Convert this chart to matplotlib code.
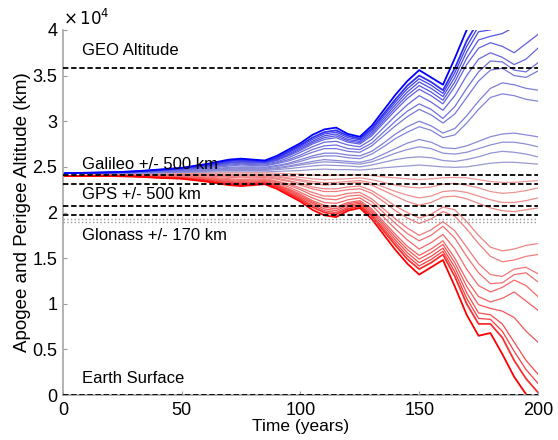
import matplotlib
matplotlib.use("Agg")
import matplotlib.pyplot as plt
from matplotlib.ticker import FuncFormatter

plt.rcParams['font.family'] = ['Liberation Sans', 'DejaVu Sans']

# time grid (years)
years = [0, 10, 20, 30, 40, 50, 60, 70, 75, 80, 85, 90, 95, 100, 105, 110, 115, 120, 125,
         130, 135, 140, 145, 150, 155, 160, 165, 170, 175, 180, 185, 190, 195, 200]

# apogee altitudes (thousand km), most perturbed first
apo1 = [24.3,24.35,24.4,24.5,24.7,24.9,25.3,25.8,25.9,25.8,25.7,26.2,26.9,27.6,28.5,29.1,29.3,28.6,28.3,29.5,31.2,32.9,34.4,35.6,34.8,34.0,36.9,40.0,42.3,42.0,44.3,46.8,48.7,50.3]
apo2 = [24.3,24.35,24.4,24.5,24.65,24.85,25.2,25.7,25.8,25.7,25.6,26.0,26.7,27.4,28.2,28.8,29.0,28.4,28.1,29.2,30.8,32.4,33.9,35.0,34.3,33.4,35.8,38.8,41.0,41.0,42.5,45.0,47.0,48.5]
apo3 = [24.3,24.35,24.4,24.5,24.62,24.82,25.15,25.6,25.7,25.62,25.55,25.9,26.55,27.25,28.0,28.6,28.8,28.2,27.95,29.0,30.55,32.1,33.55,34.65,33.95,33.05,35.3,38.2,40.4,40.5,41.8,44.0,46.0,47.5]
apo4 = [24.3,24.35,24.4,24.5,24.6,24.8,25.1,25.5,25.6,25.55,25.5,25.8,26.4,27.1,27.8,28.4,28.6,28.0,27.8,28.8,30.3,31.8,33.2,34.3,33.6,32.7,34.8,37.6,39.8,40.0,41.0,43.0,45.0,46.5]
apo5 = [24.3,24.3,24.4,24.5,24.6,24.8,25.05,25.45,25.55,25.5,25.45,25.75,26.3,26.95,27.65,28.2,28.4,27.85,27.65,28.6,30.05,31.5,32.85,33.9,33.2,32.3,34.3,36.9,38.9,39.3,39.6,40.3,41.8,43.0]
apo6 = [24.3,24.3,24.35,24.45,24.55,24.75,25.0,25.4,25.5,25.45,25.4,25.7,26.2,26.8,27.5,28.0,28.2,27.7,27.5,28.4,29.8,31.2,32.5,33.5,32.8,31.9,33.8,36.2,38.0,38.6,38.2,37.5,38.5,39.5]
apo7 = [24.3,24.3,24.35,24.4,24.5,24.7,24.95,25.3,25.4,25.35,25.3,25.55,26.0,26.6,27.2,27.7,27.8,27.4,27.2,28.0,29.3,30.6,31.8,32.8,32.1,31.2,32.8,35.0,36.8,37.5,37.0,36.2,36.8,38.0]
apo8 = [24.3,24.3,24.35,24.4,24.5,24.65,24.9,25.2,25.3,25.25,25.2,25.45,25.8,26.3,26.9,27.3,27.4,27.0,26.9,27.6,28.8,30.0,31.1,31.9,31.3,30.3,31.6,33.6,35.4,36.6,36.5,35.6,35.4,36.4]
apo9 = [24.3,24.3,24.3,24.4,24.45,24.6,24.8,25.1,25.2,25.15,25.1,25.35,25.65,26.1,26.6,27.0,27.0,26.7,26.6,27.3,28.4,29.5,30.5,31.3,30.7,29.8,30.8,32.6,34.4,35.6,35.8,35.0,34.8,35.5]
apo10 = [24.3,24.3,24.3,24.35,24.4,24.55,24.7,24.95,25.0,25.0,24.95,25.15,25.4,25.8,26.2,26.5,26.5,26.3,26.2,26.7,27.6,28.6,29.4,30.0,29.5,28.7,29.2,30.6,32.2,33.6,34.2,34.0,33.6,33.4]
apo11 = [24.3,24.3,24.3,24.35,24.4,24.5,24.65,24.85,24.9,24.9,24.85,25.05,25.3,25.6,26.0,26.2,26.2,26.0,25.9,26.4,27.2,28.1,28.8,29.4,29.0,28.2,28.5,29.8,31.3,32.6,33.0,32.8,32.4,32.2]
apo12 = [24.3,24.3,24.3,24.35,24.4,24.45,24.6,24.75,24.8,24.8,24.75,24.9,25.1,25.35,25.6,25.8,25.7,25.6,25.5,25.8,26.4,27.0,27.6,28.0,27.7,27.1,27.0,27.3,27.8,28.3,28.6,28.7,28.5,28.3]
apo13 = [24.3,24.3,24.3,24.3,24.35,24.4,24.55,24.7,24.7,24.7,24.7,24.8,25.0,25.2,25.4,25.55,25.5,25.4,25.3,25.55,26.0,26.5,26.9,27.2,27.0,26.5,26.4,26.6,27.0,27.4,27.7,27.7,27.5,27.2]
apo14 = [24.3,24.3,24.3,24.3,24.35,24.4,24.5,24.6,24.6,24.6,24.6,24.7,24.8,24.95,25.1,25.2,25.15,25.1,25.0,25.2,25.5,25.8,26.0,26.1,26.0,25.7,25.6,25.8,26.1,26.5,26.7,26.6,26.4,26.1]
apo15 = [24.3,24.3,24.3,24.3,24.3,24.35,24.4,24.45,24.45,24.45,24.45,24.5,24.55,24.6,24.7,24.75,24.7,24.7,24.65,24.75,24.9,25.0,25.1,25.2,25.1,25.0,24.95,25.0,25.2,25.4,25.5,25.5,25.4,25.3]

# perigee altitudes (thousand km), most perturbed first
per1 = [24.0,24.0,24.0,23.95,23.8,23.7,23.4,23.0,22.9,23.0,23.1,22.6,21.9,21.2,20.3,19.7,19.5,20.2,20.5,19.3,17.6,15.9,14.4,13.2,14.0,14.8,11.9,8.8,6.5,6.8,4.5,2.0,0.1,-1.5]
per2 = [24.0,24.0,24.0,23.95,23.85,23.75,23.5,23.1,23.0,23.1,23.2,22.8,22.1,21.4,20.6,20.0,19.8,20.4,20.7,19.6,18.0,16.4,14.9,13.8,14.5,15.4,13.0,10.0,7.8,7.8,6.3,3.8,1.8,0.3]
per3 = [24.0,24.0,24.0,23.95,23.88,23.78,23.55,23.2,23.1,23.18,23.25,22.9,22.25,21.55,20.8,20.2,20.0,20.6,20.85,19.8,18.25,16.7,15.25,14.15,14.85,15.75,13.5,10.6,8.4,8.3,7.0,4.8,2.8,1.3]
per4 = [24.0,24.0,24.0,23.95,23.9,23.8,23.6,23.3,23.2,23.25,23.3,23.0,22.4,21.7,21.0,20.4,20.2,20.8,21.0,20.0,18.5,17.0,15.6,14.5,15.2,16.1,14.0,11.2,9.0,8.8,7.8,5.8,3.8,2.3]
per5 = [24.0,24.0,24.0,23.95,23.9,23.8,23.65,23.35,23.25,23.3,23.35,23.05,22.5,21.85,21.15,20.6,20.4,20.95,21.15,20.2,18.75,17.3,15.95,14.9,15.6,16.5,14.5,11.9,9.9,9.5,9.2,8.5,7.0,5.8]
per6 = [24.0,24.05,24.05,24.0,23.95,23.85,23.7,23.4,23.3,23.35,23.4,23.1,22.6,22.0,21.3,20.8,20.6,21.1,21.3,20.4,19.0,17.6,16.3,15.3,16.0,16.9,15.0,12.6,10.8,10.2,10.6,11.3,10.3,9.3]
per7 = [24.0,24.05,24.05,24.05,24.0,23.9,23.75,23.5,23.4,23.45,23.5,23.25,22.8,22.2,21.6,21.1,21.0,21.4,21.6,20.8,19.5,18.2,17.0,16.0,16.7,17.6,16.0,13.8,12.0,11.3,11.8,12.6,12.0,10.8]
per8 = [24.0,24.05,24.05,24.05,24.0,23.95,23.8,23.6,23.5,23.55,23.6,23.35,23.0,22.5,21.9,21.5,21.4,21.8,21.9,21.2,20.0,18.8,17.7,16.9,17.5,18.5,17.2,15.2,13.4,12.2,12.3,13.2,13.4,12.4]
per9 = [24.0,24.05,24.1,24.05,24.05,24.0,23.9,23.7,23.6,23.65,23.7,23.45,23.15,22.7,22.2,21.8,21.8,22.1,22.2,21.5,20.4,19.3,18.3,17.5,18.1,19.0,18.0,16.2,14.4,13.2,13.0,13.8,14.0,13.3]
per10 = [24.0,24.05,24.1,24.1,24.1,24.05,24.0,23.85,23.8,23.8,23.85,23.65,23.4,23.0,22.6,22.3,22.3,22.5,22.6,22.1,21.2,20.2,19.4,18.8,19.3,20.1,19.6,18.2,16.6,15.2,14.6,14.8,15.2,15.4]
per11 = [24.0,24.05,24.1,24.1,24.1,24.1,24.05,23.95,23.9,23.9,23.95,23.75,23.5,23.2,22.8,22.6,22.6,22.8,22.9,22.4,21.6,20.7,20.0,19.4,19.8,20.6,20.3,19.0,17.5,16.2,15.8,16.0,16.4,16.6]
per12 = [24.0,24.05,24.1,24.1,24.1,24.15,24.1,24.05,24.0,24.0,24.05,23.9,23.7,23.45,23.2,23.0,23.1,23.2,23.3,23.0,22.4,21.8,21.2,20.8,21.1,21.7,21.8,21.5,21.0,20.5,20.2,20.1,20.3,20.5]
per13 = [24.0,24.05,24.1,24.15,24.15,24.2,24.15,24.1,24.1,24.1,24.1,24.0,23.8,23.6,23.4,23.25,23.3,23.4,23.5,23.25,22.8,22.3,21.9,21.6,21.8,22.3,22.4,22.2,21.8,21.4,21.1,21.1,21.3,21.6]
per14 = [24.0,24.05,24.1,24.15,24.15,24.2,24.2,24.2,24.2,24.2,24.2,24.1,24.0,23.85,23.7,23.6,23.65,23.7,23.8,23.6,23.3,23.0,22.8,22.7,22.8,23.1,23.2,23.0,22.7,22.3,22.1,22.2,22.4,22.7]
per15 = [24.0,24.05,24.1,24.15,24.2,24.25,24.3,24.35,24.35,24.35,24.35,24.3,24.25,24.2,24.1,24.05,24.1,24.1,24.15,24.05,23.9,23.8,23.7,23.6,23.7,23.8,23.85,23.8,23.6,23.4,23.3,23.3,23.4,23.5]

apogees = [apo1, apo2, apo3, apo4, apo5, apo6, apo7, apo8, apo9, apo10,
           apo11, apo12, apo13, apo14, apo15]
perigees = [per1, per2, per3, per4, per5, per6, per7, per8, per9, per10,
            per11, per12, per13, per14, per15]

# reference altitudes (km)
geo_alt = 35786
galileo_alt = 23616
galileo_tol = 500
gps_alt = 20200
gps_tol = 500
glonass_alt = 19100
glonass_tol = 170
earth_alt = 0

ref_labels = ["GEO Altitude", "Galileo +/- 500 km", "GPS +/- 500 km",
              "Glonass +/- 170 km", "Earth Surface"]
ref_label_y = [37700, 25300, 22000, 17500, 1800]

fig = plt.figure(figsize=(5.58, 4.40), dpi=100)
ax = fig.add_axes([0.113, 0.102, 0.851, 0.83])

n = len(apogees)
for k in range(n - 1, -1, -1):
    f = (k / (n - 1)) ** 0.45
    cb = (0.6 * f, 0.6 * f, 1.0 - 0.18 * f)
    cr = (1.0 - 0.07 * f, 0.6 * f, 0.6 * f)
    lw = 1.3 if k < 2 else 0.9
    ax.plot(years, [v * 1000 for v in apogees[k]], color=cb, lw=lw, zorder=2)
    ax.plot(years, [v * 1000 for v in perigees[k]], color=cr, lw=lw, zorder=2)

dash = dict(color='black', ls=(0, (3, 1.5)), lw=1.3, zorder=3)
ax.axhline(geo_alt, **dash)
ax.axhline(galileo_alt + galileo_tol, **dash)
ax.axhline(galileo_alt - galileo_tol, **dash)
ax.axhline(gps_alt + gps_tol, **dash)
ax.axhline(gps_alt - gps_tol, **dash)
ax.axhline(glonass_alt + glonass_tol, color='0.6', ls=':', lw=1.0, zorder=3)
ax.axhline(glonass_alt - glonass_tol, color='0.6', ls=':', lw=1.0, zorder=3)
ax.axhline(earth_alt, **dash)

for lab, yv in zip(ref_labels, ref_label_y):
    ax.text(8, yv, lab, fontsize=12, va='center', ha='left', color='black', zorder=4)

ax.set_xlim(0, 200)
ax.set_ylim(0, 40000)
ax.set_xticks([0, 50, 100, 150, 200])
ax.set_yticks([0, 5000, 10000, 15000, 20000, 25000, 30000, 35000, 40000])
ax.yaxis.set_major_formatter(FuncFormatter(lambda v, p: ('%g' % (v / 1e4))))
ax.tick_params(direction='in', length=3, labelsize=13, color='0.6')
ax.tick_params(axis='x', pad=5)
ax.tick_params(axis='y', pad=4)
for s in ['top', 'right']:
    ax.spines[s].set_visible(False)
for s in ['left', 'bottom']:
    ax.spines[s].set_color('0.65')
    ax.spines[s].set_linewidth(1.2)
ax.set_xlabel('Time (years)', fontsize=12.5, labelpad=0)
ax.set_ylabel('Apogee and Perigee Altitude (km)', fontsize=13.5, labelpad=1)
ax.text(0.0, 1.005, r'$\times\,10^{4}$', transform=ax.transAxes, fontsize=12,
        ha='left', va='bottom')

fig.savefig('out.png', dpi=100)
